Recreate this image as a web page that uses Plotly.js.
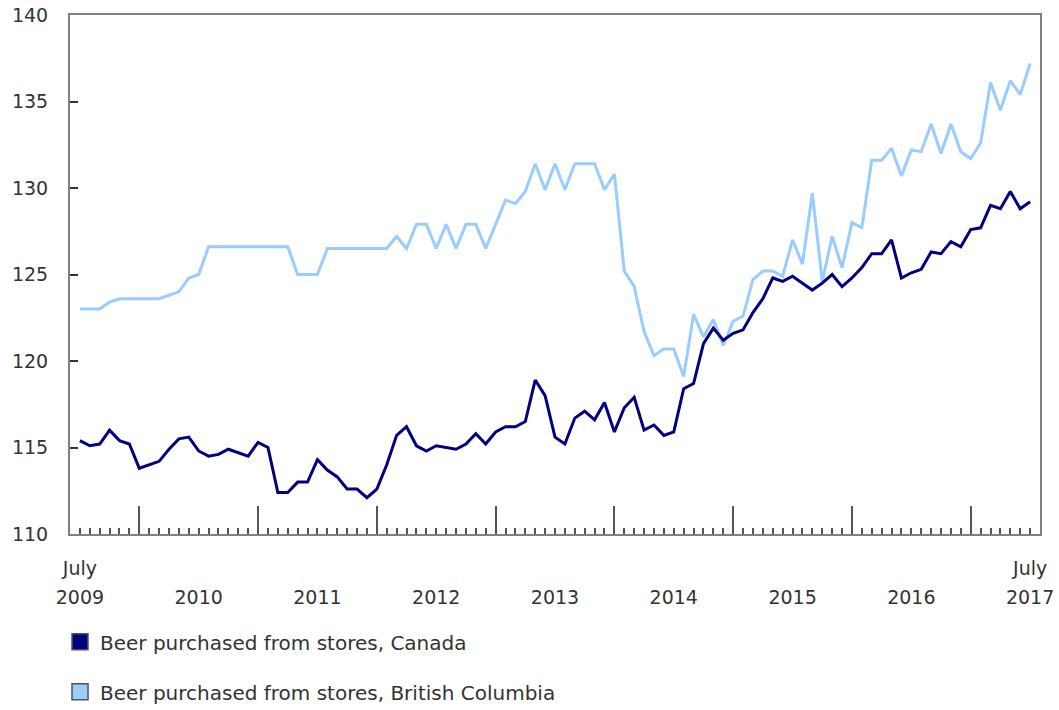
<!DOCTYPE html>
<html>
<head>
<meta charset="utf-8">
<script src="https://cdn.plot.ly/plotly-3.0.1.min.js"></script>
<style>
html,body{margin:0;padding:0;background:#fff;}
#chart{width:1059px;height:710px;}
</style>
</head>
<body>
<div id="chart"></div>
<script>
// Monthly categories, July 2009 to July 2017
const months = [];
for (let i = 0; i < 97; i++) {
  const m = (6 + i) % 12, y = 2009 + Math.floor((6 + i) / 12);
  months.push(y + '-' + String(m + 1).padStart(2, '0'));
}

const canada = [
  115.4, 115.1, 115.2, 116.0, 115.4, 115.2, 113.8, 114.0, 114.2, 114.9, 115.5, 115.6,
  114.8, 114.5, 114.6, 114.9, 114.7, 114.5, 115.3, 115.0, 112.4, 112.4, 113.0, 113.0,
  114.3, 113.7, 113.3, 112.6, 112.6, 112.1, 112.6, 114.0, 115.7, 116.2, 115.1, 114.8,
  115.1, 115.0, 114.9, 115.2, 115.8, 115.2, 115.9, 116.2, 116.2, 116.5, 118.9, 118.0,
  115.6, 115.2, 116.7, 117.1, 116.6, 117.6, 115.9, 117.3, 117.9, 116.0, 116.3, 115.7,
  115.9, 118.4, 118.7, 121.0, 121.9, 121.2, 121.6, 121.8, 122.8, 123.6, 124.8, 124.6,
  124.9, 124.5, 124.1, 124.5, 125.0, 124.3, 124.8, 125.4, 126.2, 126.2, 127.0, 124.8,
  125.1, 125.3, 126.3, 126.2, 126.9, 126.6, 127.6, 127.7, 129.0, 128.8, 129.8, 128.8,
  129.2
];

const britishColumbia = [
  123.0, 123.0, 123.0, 123.4, 123.6, 123.6, 123.6, 123.6, 123.6, 123.8, 124.0, 124.8,
  125.0, 126.6, 126.6, 126.6, 126.6, 126.6, 126.6, 126.6, 126.6, 126.6, 125.0, 125.0,
  125.0, 126.5, 126.5, 126.5, 126.5, 126.5, 126.5, 126.5, 127.2, 126.5, 127.9, 127.9,
  126.5, 127.9, 126.5, 127.9, 127.9, 126.5, 127.9, 129.3, 129.1, 129.8, 131.4, 129.9,
  131.4, 129.9, 131.4, 131.4, 131.4, 129.9, 130.8, 125.2, 124.3, 121.7, 120.3, 120.7,
  120.7, 119.1, 122.7, 121.4, 122.4, 120.9, 122.3, 122.6, 124.7, 125.2, 125.2, 124.9,
  127.0, 125.6, 129.7, 124.6, 127.2, 125.4, 128.0, 127.7, 131.6, 131.6, 132.3, 130.7,
  132.2, 132.1, 133.7, 132.0, 133.7, 132.1, 131.7, 132.6, 136.1, 134.5, 136.2, 135.4,
  137.2
];

const seriesNames = ['Beer purchased from stores, Canada', 'Beer purchased from stores, British Columbia'];
const seriesColors = ['#000080', '#99CCFF'];

const yearLabelMonths = ['2009-07','2010-07','2011-07','2012-07','2013-07','2014-07','2015-07','2016-07','2017-07'];
const yearLabels = ['2009','2010','2011','2012','2013','2014','2015','2016','2017'];
const julyLabelMonths = ['2009-07','2017-07'];
const julyLabels = ['July','July'];
const yearStartMonths = ['2010-01','2011-01','2012-01','2013-01','2014-01','2015-01','2016-01','2017-01'];
const yTicks = [110,115,120,125,130,135,140];

const idx = months.map((_, i) => i);
const pos = m => months.indexOf(m);

const traces = [
  {type:'scatter', mode:'lines', x: idx, y: britishColumbia, text: months, name: seriesNames[1],
   line:{color: seriesColors[1], width:3}, showlegend:false, hovertemplate:'%{text}: %{y}<extra></extra>'},
  {type:'scatter', mode:'lines', x: idx, y: canada, text: months, name: seriesNames[0],
   line:{color: seriesColors[0], width:3}, showlegend:false, hovertemplate:'%{text}: %{y}<extra></extra>'},
  {type:'scatter', mode:'markers', x:[null], y:[null], name: seriesNames[0], legendgroup:'a',
   marker:{symbol:'square', size:16, color: seriesColors[0], line:{color:'#555', width:1.5}}, hoverinfo:'skip'},
  {type:'scatter', mode:'markers', x:[null], y:[null], name: seriesNames[1], legendgroup:'b',
   marker:{symbol:'square', size:16, color: seriesColors[1], line:{color:'#555', width:1.5}}, hoverinfo:'skip'},
  {type:'scatter', mode:'lines', x:[], y:[], xaxis:'x2', showlegend:false, hoverinfo:'skip'},
  {type:'scatter', mode:'lines', x:[], y:[], xaxis:'x3', showlegend:false, hoverinfo:'skip'}
];

const fontFam = '"DejaVu Sans", Verdana, sans-serif';
const txt = '#333333';
const range = [-1, 97];

const layout = {
  width:1059, height:710,
  margin:{l:70, r:19, t:15, b:176, pad:0, autoexpand:false},
  paper_bgcolor:'#ffffff', plot_bgcolor:'#ffffff',
  font:{family: fontFam, size:19, color: txt},
  showlegend:true,
  legend:{x:-0.0103, xanchor:'left', y:-0.17, yanchor:'top', traceorder:'grouped',
          tracegroupgap:21, itemsizing:'trace', bgcolor:'rgba(0,0,0,0)',
          font:{family: fontFam, size:20, color: txt}},
  xaxis:{range: range, showgrid:false, zeroline:false, showline:true, mirror:true, automargin:false,
         linecolor:'#808080', linewidth:2,
         tickmode:'array', tickvals: yearStartMonths.map(pos), ticks:'inside', ticklen:28,
         tickwidth:2, tickcolor:'#555', showticklabels:false,
         minor:{tickmode:'array', tickvals: idx, ticks:'inside', ticklen:6, tickwidth:2, tickcolor:'#555', showgrid:false}},
  xaxis2:{overlaying:'x', anchor:'y', side:'bottom', range: range, showgrid:false, zeroline:false, automargin:false,
          showline:false, ticks:'', tickmode:'array', tickvals: yearLabelMonths.map(pos), ticktext: yearLabels,
          ticklabelstandoff:50, tickfont:{family: fontFam, size:19, color: txt}},
  xaxis3:{overlaying:'x', anchor:'y', side:'bottom', range: range, showgrid:false, zeroline:false, automargin:false,
          showline:false, ticks:'', tickmode:'array', tickvals: julyLabelMonths.map(pos), ticktext: julyLabels,
          ticklabelstandoff:21, tickfont:{family: fontFam, size:19, color: txt}},
  yaxis:{range:[110,140], tickmode:'array', tickvals: yTicks, ticks:'inside', ticklen:8, tickwidth:2, automargin:false,
         tickcolor:'#333', showline:true, mirror:true, linecolor:'#808080', linewidth:2,
         showgrid:false, zeroline:false, ticklabelstandoff:16, tickfont:{family: fontFam, size:19, color: txt}}
};

Plotly.newPlot('chart', traces, layout, {displayModeBar:false, staticPlot:true});
</script>
</body>
</html>
